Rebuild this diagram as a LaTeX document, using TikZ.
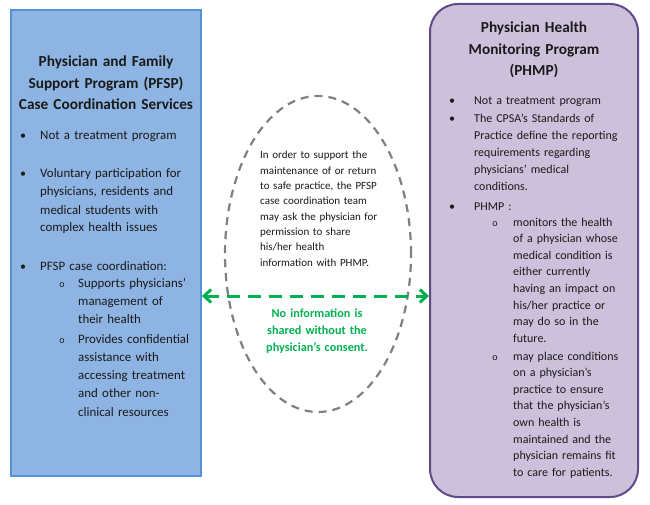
\documentclass[tikz,border=0pt]{standalone}
\usepackage{fontspec}
\setmainfont{Carlito}
\usepackage{xcolor}
\usepackage{tikz}
\usetikzlibrary{arrows.meta, positioning, shapes.geometric}

\definecolor{pfspfill}{HTML}{8DB4E2}
\definecolor{pfspline}{HTML}{5590DA}
\definecolor{phmpfill}{HTML}{CCC0DA}
\definecolor{phmpline}{HTML}{5F4A8B}
\definecolor{consent}{HTML}{00B050}
\definecolor{dashgray}{HTML}{808080}
\definecolor{ink}{HTML}{1A1A1A}

\tikzset{
  pfspbox/.style={draw=pfspline, fill=pfspfill, line width=1.8pt, minimum width=190pt, minimum height=466pt, inner sep=0},
  phmpbox/.style={draw=phmpline, fill=phmpfill, line width=2pt, rounded corners=28pt, minimum width=208pt, minimum height=493pt, inner sep=0},
  sharebox/.style={ellipse, draw=dashgray, line width=2.2pt, dash pattern=on 8pt off 6pt, minimum width=186pt, minimum height=316pt, inner sep=0},
  title/.style={font=\bfseries\fontsize{15.3}{21.5}\selectfont, text=ink, align=center, anchor=base, inner sep=0},
  lefttext/.style={font=\fontsize{12.9}{18}\selectfont, text=ink, align=left, anchor=base west, inner sep=0, text width=#1},
  righttext/.style={font=\fontsize{12}{16.8}\selectfont, text=ink, align=left, anchor=base west, inner sep=0, text width=#1},
  bul/.style={font=\fontsize{12}{14}\selectfont, text=ink, anchor=base, inner sep=0},
  subbul/.style={font=\fontsize{10}{12}\selectfont, text=ink, anchor=base, inner sep=0},
  sharetext/.style={font=\fontsize{11}{15.3}\selectfont, text=ink, align=left, anchor=base west, inner sep=0, text width=130pt},
  consenttext/.style={font=\bfseries\fontsize{12.2}{17}\selectfont, text=consent, align=center, anchor=base, inner sep=0, text width=130pt},
  consentarrow/.style={draw=consent, line width=3pt, dash pattern=on 13pt off 8pt,
    {Straight Barb[length=7pt, width=13pt]}-{Straight Barb[length=7pt, width=13pt]}}
}

\begin{document}
\begin{tikzpicture}[x=1pt, y=-1pt]
  \useasboundingbox[fill=white] (0,0) rectangle (650,505);

  \node[pfspbox] (pfsp) at (106,243) {};
  \node[phmpbox] (phmp) at (534,250.5) {};
  \node[sharebox] (share) at (318,254) {};

  % PFSP column
  \node[title, text width=190pt] (pfsptitle) at (106,67) {Physician and Family\\Support Program (PFSP)\\Case Coordination Services};
  \node[bul] (pb1) at (23,140) {•};
  \node[lefttext=160pt] (pt1) at (40,140) {Not a treatment program};
  \node[bul] (pb2) at (23,178) {•};
  \node[lefttext=160pt] (pt2) at (40,178) {Voluntary participation for\\physicians, residents and\\medical students with\\complex health issues};
  \node[bul] (pb3) at (23,270) {•};
  \node[lefttext=160pt] (pt3) at (40,270) {PFSP case coordination:};
  \node[subbul] (ps1) at (62,287) {o};
  \node[lefttext=122pt, font=\fontsize{12.9}{18.3}\selectfont] (pt4) at (78,287) {Supports physicians’\\management of\\their health};
  \node[subbul] (ps2) at (62,343) {o};
  \node[lefttext=122pt, font=\fontsize{12.9}{18.3}\selectfont] (pt5) at (78,343) {Provides confidential\\assistance with\\accessing treatment\\and other non-\\clinical resources};

  % shared middle
  \node[sharetext] (asktext) at (260,159) {In order to support the\\maintenance of or return\\to safe practice, the PFSP\\case coordination team\\may ask the physician for\\permission to share\\his/her health\\information with PHMP.};
  \coordinate (link) at (318,296);
  \draw[consentarrow] (pfsp.east |- link) -- (phmp.west |- link);
  \node[consenttext] (consentnote) at (317,317) {No information is\\shared without the\\physician’s consent.};

  % PHMP column
  \node[title, text width=200pt] (phmptitle) at (534,33) {Physician Health\\Monitoring Program\\(PHMP)};
  \node[bul] (rb1) at (452,105) {•};
  \node[righttext=160pt] (rt1) at (474,105) {Not a treatment program};
  \node[bul] (rb2) at (452,123) {•};
  \node[righttext=160pt] (rt2) at (474,123) {The CPSA’s Standards of\\Practice define the reporting\\requirements regarding\\physicians’ medical\\conditions.};
  \node[bul] (rb3) at (452,210) {•};
  \node[righttext=160pt] (rt3) at (474,210) {PHMP :};
  \node[subbul] (rs1) at (495,226) {o};
  \node[righttext=118pt, font=\fontsize{12}{16.6}\selectfont] (rt4) at (513,226) {monitors the health\\of a physician whose\\medical condition is\\either currently\\having an impact on\\his/her practice or\\may do so in the\\future.};
  \node[subbul] (rs2) at (495,360) {o};
  \node[righttext=118pt, font=\fontsize{12}{16.6}\selectfont] (rt5) at (513,360) {may place conditions\\on a physician’s\\practice to ensure\\that the physician’s\\own health is\\maintained and the\\physician remains fit\\to care for patients.};
\end{tikzpicture}
\end{document}
